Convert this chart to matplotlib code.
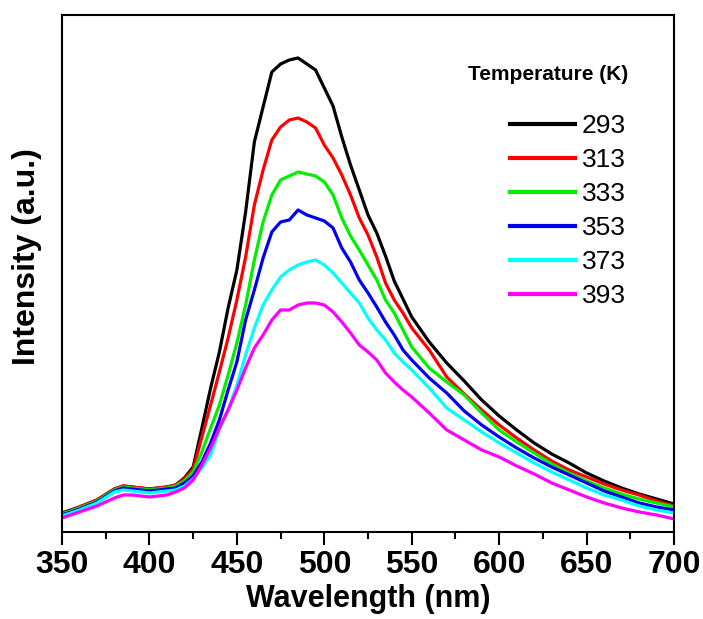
import matplotlib
matplotlib.use("Agg")
import matplotlib.pyplot as plt
from matplotlib.ticker import MultipleLocator

# ---------------- DATA ----------------
wavelength = [350, 360, 370, 380, 385, 390, 400, 410, 415, 420, 425,
              430, 435, 440, 445, 450, 455, 460, 465, 470, 475, 480, 485, 490,
              495, 500, 505, 510, 515, 520, 525, 530, 535, 540, 545, 550,
              560, 570, 580, 590, 600, 610, 620, 630, 640, 650, 660, 670, 680, 690, 700]

temperatures = ["293", "313", "333", "353", "373", "393"]

i_293 = [19, 25, 32, 43, 46, 45, 43, 45, 47, 54, 65,
         104, 144, 180, 224, 262, 320, 390, 425, 460, 468, 472, 474, 468,
         462, 444, 426, 395, 367, 342, 317, 299, 276, 251, 233, 215,
         190, 169, 151, 132, 116, 102, 89, 78, 69, 59, 51, 44, 38, 33, 28]
i_313 = [18, 25, 32, 43, 46, 45, 43, 45, 47, 53, 63,
         95, 127, 160, 194, 232, 275, 327, 362, 392, 405, 412, 414, 410,
         404, 387, 374, 357, 337, 314, 297, 275, 249, 232, 219, 204,
         182, 155, 138, 122, 107, 94, 82, 71, 62, 55, 48, 42, 37, 31, 26]
i_333 = [18, 24, 31, 42, 45, 44, 42, 44, 46, 51, 60,
         80, 104, 127, 157, 189, 227, 272, 310, 337, 352, 356, 360, 358,
         356, 350, 337, 314, 296, 282, 267, 252, 232, 219, 202, 185,
         164, 150, 137, 119, 102, 90, 79, 68, 59, 51, 44, 38, 33, 29, 25]
i_353 = [17, 23, 30, 41, 44, 43, 41, 43, 44, 49, 56,
         70, 89, 112, 142, 170, 212, 242, 274, 300, 310, 312, 322, 317,
         314, 311, 304, 284, 270, 252, 239, 225, 210, 197, 182, 172,
         154, 139, 121, 107, 95, 84, 74, 65, 57, 49, 41, 35, 29, 25, 22]
i_373 = [16, 22, 29, 40, 42, 41, 39, 41, 42, 46, 53,
         64, 77, 102, 122, 147, 177, 204, 227, 242, 255, 262, 267, 270,
         272, 267, 259, 249, 239, 229, 214, 202, 192, 179, 170, 162,
         144, 124, 112, 100, 89, 79, 69, 60, 52, 44, 37, 32, 26, 22, 19]
i_393 = [14, 20, 26, 34, 37, 37, 35, 37, 40, 44, 52,
         67, 84, 104, 122, 142, 164, 184, 197, 212, 222, 222, 227, 229,
         229, 227, 220, 210, 199, 187, 180, 172, 159, 150, 142, 135,
         119, 102, 92, 82, 75, 66, 58, 49, 42, 35, 29, 24, 20, 17, 13]

series = [i_293, i_313, i_333, i_353, i_373, i_393]
colors = ["#000000", "#ff0000", "#00ee00", "#0000ee", "#00ffff", "#ff00ff"]

# ---------------- PLOT ----------------
plt.rcParams["font.family"] = ["Liberation Sans", "DejaVu Sans"]

fig = plt.figure(figsize=(7.03, 6.19), dpi=100)
ax = fig.add_axes([0.0882, 0.1406, 0.8706, 0.8352])

for label, values, color in zip(temperatures, series, colors):
    ax.plot(wavelength, values, color=color, lw=2.3, label=label)

ax.set_xlim(350, 700)
ax.set_ylim(0, 517)
ax.xaxis.set_major_locator(MultipleLocator(50))
ax.xaxis.set_minor_locator(MultipleLocator(25))
ax.set_yticks([])
ax.tick_params(axis="x", which="major", direction="out", length=9, width=1.5,
               labelsize=23, pad=4)
ax.tick_params(axis="x", which="minor", direction="out", length=5, width=1.5)
for lbl in ax.get_xticklabels():
    lbl.set_fontweight("bold")
for sp in ax.spines.values():
    sp.set_linewidth(1.5)

ax.set_xlabel("Wavelength (nm)", fontsize=22, fontweight="bold")
ax.xaxis.set_label_coords(0.5, -0.1)
ax.set_ylabel("Intensity (a.u.)", fontsize=23, fontweight="bold")
ax.yaxis.set_label_coords(-0.033, 0.532)

# legend title placed on its own, entries below it
ax.text(0.663, 0.884, "Temperature (K)", transform=ax.transAxes,
        fontsize=15, fontweight="bold", ha="left", va="center")
leg = ax.legend(loc="upper left", bbox_to_anchor=(0.732, 0.808), frameon=False,
                fontsize=19, handlelength=2.46, handletextpad=0.27,
                labelspacing=0.38, borderpad=0, borderaxespad=0)
for line in leg.get_lines():
    line.set_linewidth(3)

fig.savefig("out.png", dpi=100)
